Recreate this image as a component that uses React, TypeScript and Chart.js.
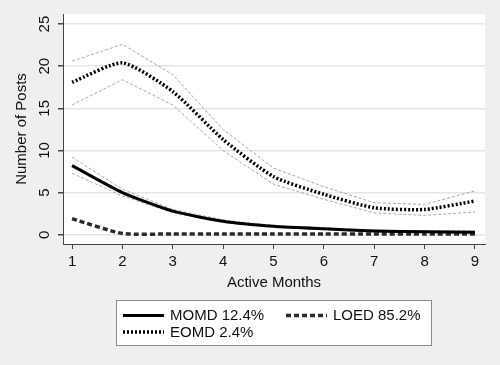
import React, { useEffect, useRef } from "react";
import { Chart, registerables } from "chart.js";

Chart.register(...registerables);

const months = [1, 2, 3, 4, 5, 6, 7, 8, 9];
const yTickValues = [0, 5, 10, 15, 20, 25];

const momd = [8.2, 5.0, 2.8, 1.6, 1.0, 0.7, 0.45, 0.35, 0.3];
const momdUpper = [9.2, 5.4, 3.0, 1.75, 1.1, 0.8, 0.55, 0.45, 0.45];
const momdLower = [7.3, 4.6, 2.6, 1.45, 0.9, 0.6, 0.35, 0.25, 0.15];

const eomd = [18.1, 20.4, 17.0, 11.3, 6.9, 4.8, 3.2, 3.0, 4.0];
const eomdUpper = [20.6, 22.6, 19.0, 12.5, 7.9, 5.7, 3.8, 3.6, 5.2];
const eomdLower = [15.4, 18.4, 15.4, 10.0, 6.0, 4.2, 2.6, 2.3, 2.7];

const loed = [1.9, 0.15, 0.1, 0.1, 0.1, 0.1, 0.1, 0.1, 0.1];

const seriesLabels = ["MOMD 12.4%", "EOMD 2.4%", "LOED 85.2%"];

const FONT = 'Arial, "Liberation Sans", Helvetica, sans-serif';

const toXY = (vals: number[]) => vals.map((v, i) => ({ x: months[i], y: v }));

const legendPlugin = {
  id: "customLegend",
  afterDraw(chart: any) {
    const ctx = chart.ctx;
    ctx.save();
    const bx = 116.5, by = 300.5, bw = 315, bh = 45;
    ctx.fillStyle = "#ffffff";
    ctx.fillRect(bx, by, bw, bh);
    ctx.strokeStyle = "#8a8a8a";
    ctx.lineWidth = 1;
    ctx.strokeRect(bx, by, bw, bh);
    const items = [
      { ds: chart.data.datasets[0], x: 123, y: 315.5 },
      { ds: chart.data.datasets[2], x: 286, y: 315.5 },
      { ds: chart.data.datasets[1], x: 123, y: 332 },
    ];
    items.forEach((it) => {
      const ds = it.ds;
      ctx.beginPath();
      ctx.strokeStyle = ds.borderColor;
      ctx.lineWidth = ds.borderWidth;
      ctx.setLineDash(ds.borderDash || []);
      ctx.lineCap = "butt";
      ctx.moveTo(it.x, it.y);
      ctx.lineTo(it.x + 41, it.y);
      ctx.stroke();
      ctx.setLineDash([]);
      ctx.fillStyle = "#111";
      ctx.font = "15px " + FONT;
      ctx.textBaseline = "middle";
      ctx.textAlign = "left";
      ctx.fillText(ds.label, it.x + 47, it.y + 0.5);
    });
    ctx.restore();
  },
};

const bgPlugin = {
  id: "plotBg",
  beforeDraw(chart: any) {
    const { ctx, chartArea } = chart;
    ctx.save();
    ctx.fillStyle = "#ffffff";
    ctx.fillRect(chartArea.left, chartArea.top, chartArea.right - chartArea.left, chartArea.bottom - chartArea.top);
    ctx.restore();
  },
};

export default function App() {
  const ref = useRef<HTMLCanvasElement | null>(null);

  useEffect(() => {
    if (!ref.current) return;
    const ciStyle = {
      borderColor: "#a8a8a8",
      borderWidth: 1,
      borderDash: [3, 2],
      pointRadius: 0,
      fill: false,
      tension: 0,
    };
    const chart = new Chart(ref.current, {
      type: "line",
      data: {
        datasets: [
          {
            label: seriesLabels[0],
            data: toXY(momd),
            borderColor: "#000000",
            borderWidth: 3,
            pointRadius: 0,
            tension: 0.2,
          },
          {
            label: seriesLabels[1],
            data: toXY(eomd),
            borderColor: "#000000",
            borderWidth: 3.5,
            borderDash: [2, 2],
            pointRadius: 0,
            tension: 0.2,
          },
          {
            label: seriesLabels[2],
            data: toXY(loed),
            borderColor: "#2a2a2a",
            borderWidth: 3.5,
            borderDash: [5, 3],
            pointRadius: 0,
            tension: 0.2,
          },
          { label: "MOMD upper", data: toXY(momdUpper), ...ciStyle },
          { label: "MOMD lower", data: toXY(momdLower), ...ciStyle },
          { label: "EOMD upper", data: toXY(eomdUpper), ...ciStyle },
          { label: "EOMD lower", data: toXY(eomdLower), ...ciStyle },
        ],
      },
      options: {
        responsive: false,
        animation: false,
        devicePixelRatio: 1,
        layout: { padding: { left: 8, right: 15, top: 12, bottom: 71 } },
        plugins: {
          legend: { display: false },
          tooltip: { enabled: false },
        },
        scales: {
          x: {
            type: "linear",
            min: 0.82,
            max: 9.2,
            afterFit: (s: any) => {
              s.height = 50;
            },
            afterBuildTicks: (s: any) => {
              s.ticks = months.map((m) => ({ value: m }));
            },
            border: { display: true, color: "#444", width: 1 },
            grid: {
              display: true,
              drawOnChartArea: false,
              drawTicks: true,
              tickLength: 5,
              tickColor: "#444",
            },
            ticks: {
              color: "#111",
              font: { size: 15, family: FONT },
              padding: 4,
              maxRotation: 0,
              autoSkip: false,
            },
            title: {
              display: true,
              text: "Active Months",
              color: "#111",
              font: { size: 15, family: FONT },
              padding: { top: 0, bottom: 2 },
            },
          },
          y: {
            type: "linear",
            min: -1.1,
            max: 26.2,
            afterFit: (s: any) => {
              s.width = 55;
            },
            afterBuildTicks: (s: any) => {
              s.ticks = yTickValues.map((v) => ({ value: v }));
            },
            border: { display: true, color: "#444", width: 1 },
            grid: {
              display: true,
              drawOnChartArea: true,
              drawTicks: true,
              tickLength: 5,
              color: "#e6e6e6",
              lineWidth: 1.5,
              tickColor: "#444",
            },
            ticks: {
              color: "#111",
              font: { size: 15, family: FONT },
              minRotation: 90,
              maxRotation: 90,
              crossAlign: "center",
              padding: 5,
              autoSkip: false,
            },
            title: {
              display: true,
              text: "Number of Posts",
              color: "#111",
              font: { size: 15, family: FONT },
              padding: { top: 5, bottom: 0 },
            },
          },
        },
      },
      plugins: [bgPlugin, legendPlugin],
    } as any);
    return () => chart.destroy();
  }, []);

  return (
    <div
      style={{
        position: "fixed",
        left: 0,
        top: 0,
        width: 500,
        height: 365,
        background: "#efefef",
      }}
    >
      <canvas ref={ref} width={500} height={365} style={{ display: "block" }} />
    </div>
  );
}
